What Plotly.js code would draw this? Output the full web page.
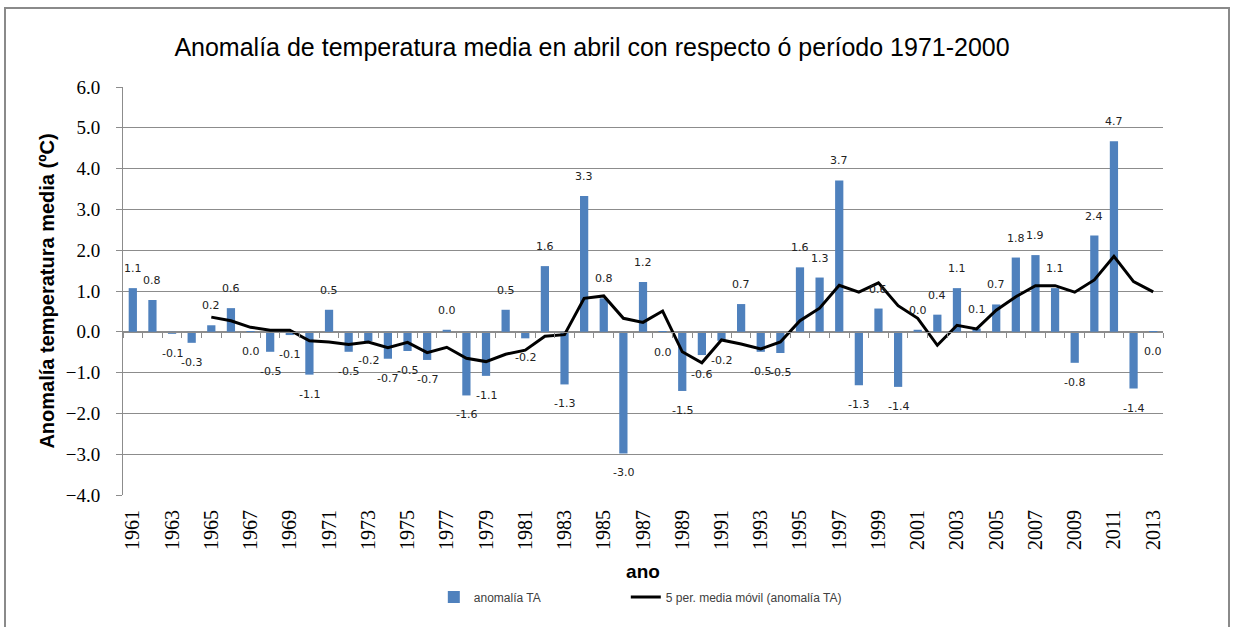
<!DOCTYPE html>
<html>
<head>
<meta charset="utf-8">
<script src="https://cdn.plot.ly/plotly-3.0.1.min.js"></script>
<style>
  html, body { margin: 0; padding: 0; background: #fff; }
  #wrap { position: relative; width: 1237px; height: 627px; }
  #chart { width: 1237px; height: 627px; }
  #frame { position: absolute; left: 4px; top: 7px; width: 1226px; height: 625px;
           border: 2px solid #8a8a8a; pointer-events: none; box-sizing: border-box; }
</style>
</head>
<body>
<div id="wrap">
  <div id="chart"></div>
  <div id="frame"></div>
</div>
<script>
// ---- Data ----
const years = [1961,1962,1963,1964,1965,1966,1967,1968,1969,1970,
               1971,1972,1973,1974,1975,1976,1977,1978,1979,1980,
               1981,1982,1983,1984,1985,1986,1987,1988,1989,1990,
               1991,1992,1993,1994,1995,1996,1997,1998,1999,2000,
               2001,2002,2003,2004,2005,2006,2007,2008,2009,2010,
               2011,2012,2013];

const anomalia = [1.07,0.78,-0.05,-0.27,0.16,0.58,-0.01,-0.49,-0.08,-1.05,
                  0.54,-0.49,-0.23,-0.66,-0.47,-0.69,0.05,-1.56,-1.08,0.54,
                  -0.16,1.61,-1.29,3.33,0.82,-2.98,1.22,-0.03,-1.45,-0.57,
                  -0.22,0.68,-0.49,-0.52,1.58,1.33,3.71,-1.31,0.57,-1.35,
                  0.05,0.42,1.07,0.08,0.67,1.82,1.88,1.07,-0.76,2.36,
                  4.67,-1.39,-0.01];

const labels = ["1.1","0.8","-0.1","-0.3","0.2","0.6","0.0","-0.5","-0.1","-1.1",
                "0.5","-0.5","-0.2","-0.7","-0.5","-0.7","0.0","-1.6","-1.1","0.5",
                "-0.2","1.6","-1.3","3.3","0.8","-3.0","1.2","0.0","-1.5","-0.6",
                "-0.2","0.7","-0.5","-0.5","1.6","1.3","3.7","-1.3","0.6","-1.4",
                "0.0","0.4","1.1","0.1","0.7","1.8","1.9","1.1","-0.8","2.4",
                "4.7","-1.4","0.0"];

const mediaYears = [1965,1966,1967,1968,1969,1970,1971,1972,1973,1974,
                    1975,1976,1977,1978,1979,1980,1981,1982,1983,1984,
                    1985,1986,1987,1988,1989,1990,1991,1992,1993,1994,
                    1995,1996,1997,1998,1999,2000,2001,2002,2003,2004,
                    2005,2006,2007,2008,2009,2010,2011,2012,2013];
const mediaMovil = [0.36,0.27,0.11,0.04,0.04,-0.22,-0.25,-0.31,-0.25,-0.39,
                    -0.26,-0.51,-0.38,-0.65,-0.73,-0.55,-0.45,-0.11,-0.07,0.82,
                    0.88,0.33,0.23,0.51,-0.49,-0.76,-0.20,-0.30,-0.42,-0.25,
                    0.27,0.58,1.14,0.97,1.20,0.64,0.33,-0.33,0.16,0.07,
                    0.53,0.86,1.13,1.13,0.97,1.27,1.85,1.23,0.98];

const xTickYears = years.filter((y, i) => i % 2 === 0);
const boundaryTicks = years.map(y => y - 0.5).concat([years[years.length - 1] + 0.5]);

const xRange = [years[0] - 0.5, years[years.length - 1] + 0.5];

const gridColor = '#8c8c8c';

const traces = [
  {
    type: 'bar',
    name: 'anomalía TA',
    x: years,
    y: anomalia,
    width: 0.42,
    marker: { color: '#4f81bd' },
    legend: 'legend',
    hoverinfo: 'x+y'
  },
  {
    type: 'scatter',
    mode: 'lines',
    name: '5 per. media móvil (anomalía TA)',
    x: mediaYears,
    y: mediaMovil,
    line: { color: '#000000', width: 3 },
    legend: 'legend2',
    hoverinfo: 'x+y'
  }
];

const annotations = years.map((yr, i) => ({
  x: yr,
  y: anomalia[i],
  xref: 'x',
  yref: 'y',
  text: labels[i],
  showarrow: false,
  yshift: anomalia[i] >= 0 ? 19.5 : -19.5,
  font: { family: 'DejaVu Sans, Verdana, sans-serif', size: 11, color: '#222222' }
}));

const legendFont = { family: 'Liberation Sans, Arial, sans-serif', size: 12, color: '#404040' };

const layout = {
  width: 1237,
  height: 627,
  paper_bgcolor: '#ffffff',
  plot_bgcolor: '#ffffff',
  margin: { l: 123, r: 74, t: 87, b: 132 },
  title: {
    text: 'Anomalía de temperatura media en abril con respecto ó período 1971-2000',
    font: { family: '"Liberation Sans Narrow", "Liberation Sans", Arial, sans-serif', size: 25, color: '#000' },
    x: 0.4786, xanchor: 'center', xref: 'container',
    y: 0.925, yanchor: 'middle', yref: 'container'
  },
  bargap: 0.58,
  showlegend: true,
  legend: {
    orientation: 'h',
    xref: 'container', yref: 'container',
    x: 0.3507, xanchor: 'left',
    y: 1 - 597 / 627, yanchor: 'middle',
    font: legendFont,
    bgcolor: 'rgba(0,0,0,0)'
  },
  legend2: {
    orientation: 'h',
    xref: 'container', yref: 'container',
    x: 0.5059, xanchor: 'left',
    y: 1 - 597 / 627, yanchor: 'middle',
    font: legendFont,
    bgcolor: 'rgba(0,0,0,0)'
  },
  xaxis: {
    range: xRange,
    tickmode: 'array',
    tickvals: xTickYears,
    ticktext: xTickYears.map(String),
    tickangle: -90,
    ticks: '',
    ticklabelstandoff: 10,
    tickfont: { family: 'Liberation Serif, Times New Roman, serif', size: 20, color: '#000' },
    showgrid: false,
    zeroline: false,
    showline: false,
    fixedrange: true,
    title: {
      text: 'ano',
      font: { family: 'Liberation Sans, Arial, sans-serif', size: 19, color: '#000', weight: 'bold' },
      standoff: 20
    }
  },
  xaxis2: {
    overlaying: 'x',
    matches: 'x',
    range: xRange,
    anchor: 'free',
    position: 0.4,
    side: 'bottom',
    showline: true,
    linecolor: gridColor,
    linewidth: 1,
    ticks: 'outside',
    ticklen: 5,
    tickcolor: gridColor,
    tickmode: 'array',
    tickvals: boundaryTicks,
    showticklabels: false,
    showgrid: false,
    zeroline: false
  },
  yaxis: {
    range: [-4, 6],
    dtick: 1,
    tick0: 0,
    tickformat: '.1f',
    ticks: 'outside',
    ticklen: 6,
    tickcolor: gridColor,
    ticklabelstandoff: 12,
    tickfont: { family: 'Liberation Serif, Times New Roman, serif', size: 19, color: '#000' },
    showgrid: true,
    gridcolor: gridColor,
    gridwidth: 1,
    zeroline: false,
    showline: true,
    linecolor: gridColor,
    linewidth: 1,
    fixedrange: true,
    title: {
      text: 'Anomalía temperatura media (ºC)',
      font: { family: 'Liberation Sans, Arial, sans-serif', size: 20, color: '#000', weight: 'bold' },
      standoff: 5
    }
  },
  annotations: annotations
};

// hidden trace so the zero-line category axis (x2) is rendered
traces.push({
  type: 'scatter', mode: 'none', x: xRange, y: [0, 0], xaxis: 'x2', yaxis: 'y',
  showlegend: false, hoverinfo: 'skip'
});

Plotly.newPlot('chart', traces, layout, { displayModeBar: false });
</script>
</body>
</html>
